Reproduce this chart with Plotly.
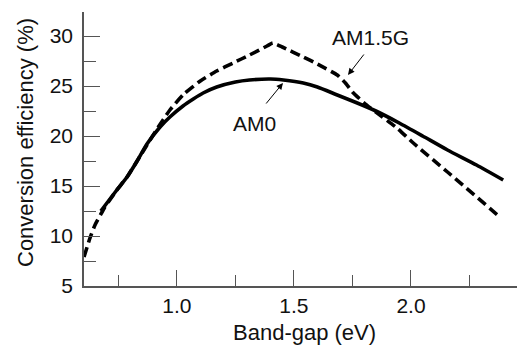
import plotly.graph_objects as go

# Band-gap (eV) and efficiency (%)
am0_E = [0.675, 0.74, 0.787, 0.83, 0.872, 0.928, 0.97, 1.026, 1.07, 1.112, 1.17,
         1.25, 1.31, 1.40, 1.455, 1.54, 1.60, 1.685, 1.76, 1.85, 1.95, 2.05,
         2.156, 2.28, 2.394]
am0_eff = [12.5, 14.5, 15.9, 17.5, 19.2, 20.9, 21.9, 23.0, 23.7, 24.3, 24.9,
           25.4, 25.6, 25.7, 25.6, 25.3, 24.9, 24.1, 23.4, 22.5, 21.3, 20.0,
           18.6, 17.1, 15.6]

am15_E = [0.603, 0.63, 0.65, 0.69, 0.74, 0.787, 0.83, 0.872, 0.915, 0.97, 1.03,
          1.10, 1.17, 1.24, 1.31, 1.385, 1.41, 1.45, 1.54, 1.60, 1.685, 1.72,
          1.75, 1.80, 1.85, 1.94, 2.01, 2.156, 2.38]
am15_eff = [7.9, 9.9, 11.1, 12.8, 14.5, 15.9, 17.5, 19.1, 20.7, 22.6, 24.2,
            25.5, 26.5, 27.3, 28.1, 29.0, 29.3, 28.9, 27.9, 27.2, 26.1, 25.3,
            24.4, 23.3, 22.4, 20.8, 19.3, 16.4, 11.9]

x_ticks = [1.0, 1.5, 2.0]
x_ticklabels = ["1.0", "1.5", "2.0"]
y_ticks = [5, 10, 15, 20, 25, 30]

FONT = "Liberation Sans, Arial, Helvetica, sans-serif"
AX = "#555555"
FS = 21
FT = 22

fig = go.Figure()
fig.add_trace(go.Scatter(x=am15_E, y=am15_eff, mode="lines", name="AM1.5G",
                         line=dict(color="black", width=3.6, dash="10px,5px",
                                   shape="spline", smoothing=0.5)))
fig.add_trace(go.Scatter(x=am0_E, y=am0_eff, mode="lines", name="AM0",
                         line=dict(color="black", width=3.6,
                                   shape="spline", smoothing=0.6)))

# labels and arrows
fig.add_annotation(x=1.731, y=26.1, ax=17, ay=-22, text="", showarrow=True,
                   arrowhead=2, arrowsize=1.3, arrowwidth=1, arrowcolor="black",
                   xref="x", yref="y")
fig.add_annotation(x=1.825, y=29.9, text="AM1.5G", showarrow=False,
                   font=dict(family=FONT, size=FS, color="#111"))
fig.add_annotation(x=1.453, y=25.3, ax=-18, ay=22, text="", showarrow=True,
                   arrowhead=2, arrowsize=1.3, arrowwidth=1, arrowcolor="black",
                   xref="x", yref="y")
fig.add_annotation(x=1.333, y=21.3, text="AM0", showarrow=False,
                   font=dict(family=FONT, size=FS, color="#111"))

# axis titles
fig.add_annotation(xref="paper", yref="paper", x=(304 - 84) / 433, y=(286 - 332) / 274,
                   text="Band-gap (eV)", showarrow=False, xanchor="center",
                   yanchor="middle", font=dict(family=FONT, size=FT, color="#111"))
fig.add_annotation(xref="paper", yref="paper", x=(25 - 84) / 433, y=(286 - 143) / 274,
                   text="Conversion efficiency (%)", showarrow=False, textangle=-90,
                   xanchor="center", yanchor="middle",
                   font=dict(family=FONT, size=FT, color="#111"))

fig.update_layout(
    width=517, height=345,
    margin=dict(l=84, r=0, t=12, b=59, autoexpand=False),
    paper_bgcolor="white", plot_bgcolor="white",
    showlegend=False,
    font=dict(family=FONT, size=FS, color="#111"),
    xaxis=dict(range=[0.603, 2.453], tickvals=x_ticks, ticktext=x_ticklabels,
               ticks="inside", ticklen=16, tickwidth=1, tickcolor=AX,
               showline=True, linecolor=AX, linewidth=1.5, showgrid=False,
               zeroline=False, automargin=False,
               minor=dict(ticks="inside", ticklen=11, tickwidth=1, tickcolor=AX,
                          tick0=0.75, dtick=0.5, showgrid=False)),
    yaxis=dict(range=[5, 32.4], tickvals=y_ticks,
               ticks="inside", ticklen=16, tickwidth=1, tickcolor=AX,
               showline=True, linecolor=AX, linewidth=1.5, showgrid=False,
               zeroline=False, automargin=False, ticklabelstandoff=5,
               minor=dict(ticks="inside", ticklen=12, tickwidth=1, tickcolor=AX,
                          tick0=7.5, dtick=5, showgrid=False)),
)

fig.write_html("out.html", config={"displayModeBar": False},
               post_script="document.body.style.margin='0px';"
                           "document.body.style.overflow='hidden';")
